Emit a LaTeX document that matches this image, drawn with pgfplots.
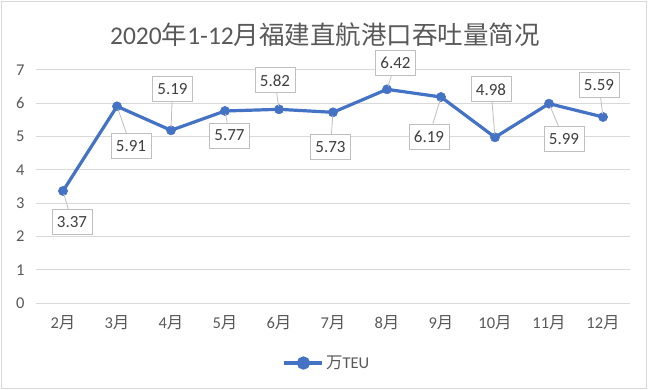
\documentclass[border=0pt]{standalone}
\usepackage{fontspec}
\setmainfont{Carlito}
\newfontfamily\cjk{Noto Sans CJK SC}
\usepackage{pgfplots}
\usepackage{pgfplotstable}
\pgfplotsset{compat=1.18}
\usetikzlibrary{calc}
\definecolor{lineblue}{HTML}{4472C4}
\definecolor{txt}{HTML}{595959}
\definecolor{lbltxt}{HTML}{404040}
\definecolor{gridc}{HTML}{D9D9D9}
\definecolor{boxc}{HTML}{BFBFBF}

\pgfplotstableread{
x y lx ly
0 3.37 9 -31
1 5.91 14 -40
2 5.19 1.5 41.5
3 5.77 4.5 -24.5
4 5.82 -4 29
5 5.73 -2.5 -34.5
6 6.42 8.5 26
7 6.19 -12 -39.5
8 4.98 -4 48
9 5.99 15 -35.5
10 5.59 -4 32
}\datatable

\begin{document}
\begin{tikzpicture}[x=1pt,y=1pt]
\useasboundingbox (0,0) rectangle (650,390);
\fill[white] (0,0) rectangle (650,390);
\draw[gridc, line width=1pt] (1.5,1.5) rectangle (646,388.5);
\begin{axis}[
  at={(36pt,86.7pt)}, anchor=south west,
  scale only axis, width=594pt, height=233.3pt,
  xmin=-0.5, xmax=10.5, ymin=0, ymax=7,
  xtick={0,...,10},
  xticklabels={2{\cjk 月},3{\cjk 月},4{\cjk 月},5{\cjk 月},6{\cjk 月},7{\cjk 月},8{\cjk 月},9{\cjk 月},10{\cjk 月},11{\cjk 月},12{\cjk 月}},
  ytick={0,...,7},
  axis line style={draw=none},
  major tick length=0pt,
  ymajorgrids, grid style={gridc, line width=1pt},
  /pgf/number format/assume math mode=true,
  /pgf/number format/fixed,
  /pgf/number format/precision=2,
  tick label style={font=\fontsize{16.5}{19}\selectfont, text=txt},
  yticklabel style={xshift=-8pt},
  xticklabel style={yshift=-9pt},
  clip=false,
  legend style={at={(0.49,-0.256)}, anchor=center, draw=none, fill=none,
    font=\fontsize{16.5}{19}\selectfont, text=txt, inner sep=0pt},
  legend image code/.code={
    \draw[lineblue, line width=3.2pt] (0pt,0pt) -- (38pt,0pt);
    \fill[lineblue] (19pt,0pt) circle (5pt);
  },
]
\addplot[lineblue, line width=3.2pt, mark=*, mark size=4.6pt,
  mark options={fill=lineblue, draw=lineblue, line width=0.5pt},
  visualization depends on={\thisrow{lx}\as\lblx},
  visualization depends on={\thisrow{ly}\as\lbly},
  nodes near coords,
  every node near coord/.append style={anchor=center,
    xshift=\lblx pt, yshift=\lbly pt,
    draw=boxc, fill=white, line width=0.8pt, text=lbltxt,
    minimum width=40pt, minimum height=25pt, inner sep=0pt,
    font=\fontsize{17}{20}\selectfont,
    append after command={\pgfextra{\draw[boxc, line width=0.8pt, shorten >=3pt] (\tikzlastnode) -- ($(\tikzlastnode.center)-(\lblx pt,\lbly pt)$);}}
  },
] table[x=x, y=y] {\datatable};
\addlegendentry{{\cjk 万}TEU}
\end{axis}
\node[font=\fontsize{25.5}{30}\selectfont, text=txt] at (325,355) {2020{\cjk 年}1-12{\cjk 月福建直航港口吞吐量简况}};
\end{tikzpicture}
\end{document}
